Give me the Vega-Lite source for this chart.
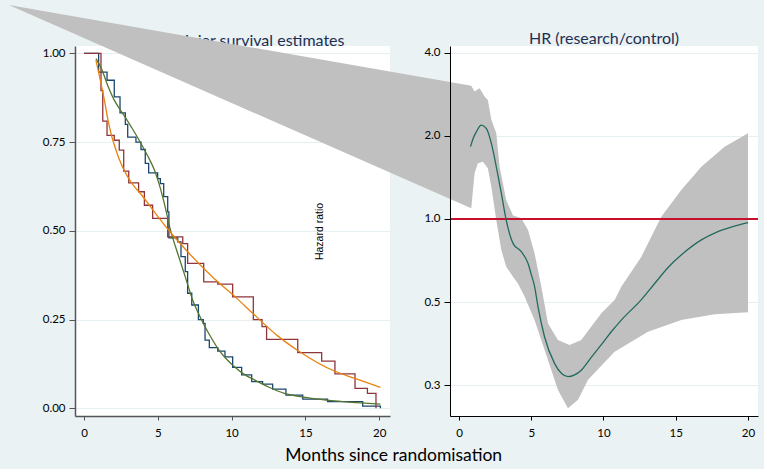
{
  "$schema": "https://vega.github.io/schema/vega-lite/v6.json",
  "background": "#eaf2f3",
  "padding": {"left": 8, "top": 5, "right": 5, "bottom": 5},
  "bounds": "flush",
  "spacing": 60,
  "title": {"text": "Months since randomisation", "orient": "bottom", "anchor": "middle", "font": "Lato", "fontSize": 17.5, "fontWeight": "normal", "color": "#000000", "offset": 8, "dx": 10},
  "config": {
    "view": {"fill": "white", "stroke": null},
    "font": "Lato",
    "title": {"font": "Lato", "fontSize": 16, "fontWeight": "normal", "color": "#1e2f55", "offset": 1},
    "axis": {"labelFont": "Lato", "labelFontSize": 11.5, "labelColor": "#000000", "gridColor": "#e6eff1", "gridWidth": 1, "labelFlush": false, "labelOverlap": false}
  },
  "datasets": {
    "km": [
      {"grp": "control", "t": 0, "S": 1.0}, {"grp": "control", "t": 0.99, "S": 0.947}, {"grp": "control", "t": 1.56, "S": 0.924}, {"grp": "control", "t": 2.05, "S": 0.877}, {"grp": "control", "t": 2.44, "S": 0.832}, {"grp": "control", "t": 2.8, "S": 0.8}, {"grp": "control", "t": 2.96, "S": 0.764}, {"grp": "control", "t": 3.52, "S": 0.75}, {"grp": "control", "t": 3.86, "S": 0.729}, {"grp": "control", "t": 4.15, "S": 0.69}, {"grp": "control", "t": 4.38, "S": 0.663}, {"grp": "control", "t": 4.99, "S": 0.647}, {"grp": "control", "t": 5.17, "S": 0.633}, {"grp": "control", "t": 5.4, "S": 0.596}, {"grp": "control", "t": 5.67, "S": 0.553}, {"grp": "control", "t": 5.75, "S": 0.48}, {"grp": "control", "t": 6.35, "S": 0.469}, {"grp": "control", "t": 6.57, "S": 0.427}, {"grp": "control", "t": 6.86, "S": 0.385}, {"grp": "control", "t": 7.02, "S": 0.324}, {"grp": "control", "t": 7.3, "S": 0.291}, {"grp": "control", "t": 7.75, "S": 0.25}, {"grp": "control", "t": 8.08, "S": 0.239}, {"grp": "control", "t": 8.2, "S": 0.192}, {"grp": "control", "t": 8.49, "S": 0.171}, {"grp": "control", "t": 9.06, "S": 0.161}, {"grp": "control", "t": 9.55, "S": 0.145}, {"grp": "control", "t": 10.07, "S": 0.115}, {"grp": "control", "t": 10.68, "S": 0.094}, {"grp": "control", "t": 11.36, "S": 0.075}, {"grp": "control", "t": 12.1, "S": 0.068}, {"grp": "control", "t": 12.78, "S": 0.054}, {"grp": "control", "t": 13.68, "S": 0.037}, {"grp": "control", "t": 14.82, "S": 0.026}, {"grp": "control", "t": 16.5, "S": 0.019}, {"grp": "control", "t": 18.88, "S": 0.006}, {"grp": "control", "t": 20.08, "S": 0.0},
      {"grp": "research", "t": 0, "S": 1.0}, {"grp": "research", "t": 1.15, "S": 0.895}, {"grp": "research", "t": 1.27, "S": 0.809}, {"grp": "research", "t": 1.56, "S": 0.769}, {"grp": "research", "t": 2.05, "S": 0.755}, {"grp": "research", "t": 2.39, "S": 0.727}, {"grp": "research", "t": 2.69, "S": 0.668}, {"grp": "research", "t": 3.03, "S": 0.635}, {"grp": "research", "t": 3.7, "S": 0.61}, {"grp": "research", "t": 4.09, "S": 0.572}, {"grp": "research", "t": 4.65, "S": 0.535}, {"grp": "research", "t": 5.67, "S": 0.483}, {"grp": "research", "t": 6.69, "S": 0.464}, {"grp": "research", "t": 7.02, "S": 0.408}, {"grp": "research", "t": 8.11, "S": 0.356}, {"grp": "research", "t": 9.06, "S": 0.35}, {"grp": "research", "t": 10.07, "S": 0.314}, {"grp": "research", "t": 11.47, "S": 0.25}, {"grp": "research", "t": 12.06, "S": 0.23}, {"grp": "research", "t": 12.37, "S": 0.194}, {"grp": "research", "t": 14.48, "S": 0.157}, {"grp": "research", "t": 16.1, "S": 0.133}, {"grp": "research", "t": 17.0, "S": 0.097}, {"grp": "research", "t": 18.36, "S": 0.056}, {"grp": "research", "t": 19.2, "S": 0.042}, {"grp": "research", "t": 19.78, "S": 0.0}
    ],
    "fit": [
      {"grp": "control", "t": 0.81, "S": 0.985}, {"grp": "control", "t": 1.2, "S": 0.955}, {"grp": "control", "t": 1.6, "S": 0.91}, {"grp": "control", "t": 2.05, "S": 0.868}, {"grp": "control", "t": 2.5, "S": 0.838}, {"grp": "control", "t": 2.85, "S": 0.816}, {"grp": "control", "t": 3.3, "S": 0.786}, {"grp": "control", "t": 3.86, "S": 0.746}, {"grp": "control", "t": 4.3, "S": 0.712}, {"grp": "control", "t": 4.77, "S": 0.671}, {"grp": "control", "t": 5.1, "S": 0.63}, {"grp": "control", "t": 5.44, "S": 0.577}, {"grp": "control", "t": 5.89, "S": 0.497}, {"grp": "control", "t": 6.2, "S": 0.455}, {"grp": "control", "t": 6.57, "S": 0.408}, {"grp": "control", "t": 7.0, "S": 0.352}, {"grp": "control", "t": 7.36, "S": 0.305}, {"grp": "control", "t": 7.7, "S": 0.272}, {"grp": "control", "t": 8.15, "S": 0.234}, {"grp": "control", "t": 8.6, "S": 0.2}, {"grp": "control", "t": 9.06, "S": 0.169}, {"grp": "control", "t": 9.6, "S": 0.141}, {"grp": "control", "t": 10.19, "S": 0.117}, {"grp": "control", "t": 10.8, "S": 0.097}, {"grp": "control", "t": 11.54, "S": 0.08}, {"grp": "control", "t": 12.5, "S": 0.06}, {"grp": "control", "t": 13.57, "S": 0.042}, {"grp": "control", "t": 15.0, "S": 0.031}, {"grp": "control", "t": 16.96, "S": 0.021}, {"grp": "control", "t": 18.5, "S": 0.016}, {"grp": "control", "t": 20.08, "S": 0.012},
      {"grp": "research", "t": 0.81, "S": 0.98}, {"grp": "research", "t": 1.1, "S": 0.925}, {"grp": "research", "t": 1.38, "S": 0.868}, {"grp": "research", "t": 1.63, "S": 0.811}, {"grp": "research", "t": 1.83, "S": 0.774}, {"grp": "research", "t": 2.17, "S": 0.727}, {"grp": "research", "t": 2.5, "S": 0.69}, {"grp": "research", "t": 2.96, "S": 0.652}, {"grp": "research", "t": 3.4, "S": 0.625}, {"grp": "research", "t": 3.86, "S": 0.603}, {"grp": "research", "t": 4.77, "S": 0.553}, {"grp": "research", "t": 5.67, "S": 0.505}, {"grp": "research", "t": 7.02, "S": 0.441}, {"grp": "research", "t": 8.83, "S": 0.365}, {"grp": "research", "t": 10.19, "S": 0.316}, {"grp": "research", "t": 11.5, "S": 0.265}, {"grp": "research", "t": 13.12, "S": 0.204}, {"grp": "research", "t": 14.48, "S": 0.163}, {"grp": "research", "t": 16.96, "S": 0.105}, {"grp": "research", "t": 18.36, "S": 0.084}, {"grp": "research", "t": 20.08, "S": 0.059}
    ],
    "hr": [
      {"t": 0.8, "hr": 1.83}, {"t": 1.0, "hr": 1.97}, {"t": 1.2, "hr": 2.07}, {"t": 1.54, "hr": 2.19}, {"t": 1.89, "hr": 2.13}, {"t": 2.24, "hr": 1.88}, {"t": 2.58, "hr": 1.55}, {"t": 2.93, "hr": 1.24}, {"t": 3.27, "hr": 0.99}, {"t": 3.74, "hr": 0.816}, {"t": 4.31, "hr": 0.761}, {"t": 4.78, "hr": 0.69}, {"t": 5.0, "hr": 0.63}, {"t": 5.23, "hr": 0.57}, {"t": 5.47, "hr": 0.48}, {"t": 5.92, "hr": 0.374}, {"t": 6.62, "hr": 0.299}, {"t": 7.1, "hr": 0.275}, {"t": 7.54, "hr": 0.268}, {"t": 8.0, "hr": 0.272}, {"t": 8.46, "hr": 0.283}, {"t": 9.15, "hr": 0.315}, {"t": 9.85, "hr": 0.35}, {"t": 10.54, "hr": 0.39}, {"t": 11.23, "hr": 0.43}, {"t": 12.62, "hr": 0.51}, {"t": 13.5, "hr": 0.58}, {"t": 14.5, "hr": 0.67}, {"t": 15.5, "hr": 0.75}, {"t": 16.77, "hr": 0.84}, {"t": 17.8, "hr": 0.895}, {"t": 18.84, "hr": 0.935}, {"t": 20.0, "hr": 0.97}
    ],
    "ci": [
      {"t": -31.14, "hr": 5.97},
      {"t": 0.85, "hr": 3.04}, {"t": 1.08, "hr": 2.9}, {"t": 1.43, "hr": 2.98}, {"t": 1.77, "hr": 2.78}, {"t": 2.0, "hr": 2.7}, {"t": 2.24, "hr": 2.29}, {"t": 2.58, "hr": 2.05}, {"t": 2.81, "hr": 1.55}, {"t": 3.27, "hr": 1.17}, {"t": 3.74, "hr": 1.03}, {"t": 4.31, "hr": 1.006}, {"t": 4.78, "hr": 0.912}, {"t": 5.23, "hr": 0.751}, {"t": 5.7, "hr": 0.568}, {"t": 6.16, "hr": 0.418}, {"t": 6.85, "hr": 0.364}, {"t": 7.65, "hr": 0.349}, {"t": 8.46, "hr": 0.364}, {"t": 9.85, "hr": 0.455}, {"t": 10.77, "hr": 0.508}, {"t": 11.23, "hr": 0.568}, {"t": 12.62, "hr": 0.73}, {"t": 14.0, "hr": 1.019}, {"t": 15.38, "hr": 1.274}, {"t": 16.77, "hr": 1.548}, {"t": 18.38, "hr": 1.829}, {"t": 20.0, "hr": 2.046},
      {"t": 20.0, "hr": 0.459}, {"t": 17.69, "hr": 0.451}, {"t": 15.38, "hr": 0.43}, {"t": 13.08, "hr": 0.39}, {"t": 10.77, "hr": 0.33}, {"t": 8.93, "hr": 0.261}, {"t": 8.24, "hr": 0.221}, {"t": 7.54, "hr": 0.206}, {"t": 6.85, "hr": 0.24}, {"t": 6.16, "hr": 0.308}, {"t": 5.23, "hr": 0.43}, {"t": 4.54, "hr": 0.523}, {"t": 4.08, "hr": 0.584}, {"t": 3.74, "hr": 0.618}, {"t": 3.27, "hr": 0.671}, {"t": 2.93, "hr": 0.772}, {"t": 2.58, "hr": 0.992}, {"t": 2.24, "hr": 1.31}, {"t": 2.0, "hr": 1.527}, {"t": 1.66, "hr": 1.613}, {"t": 1.31, "hr": 1.592}, {"t": 1.08, "hr": 1.465}, {"t": 0.85, "hr": 1.094}
    ]
  },
  "hconcat": [
    {
      "width": 315,
      "height": 370,
      "title": {"text": "Kaplan-Meier survival estimates", "frame": "group", "dy": 3.7},
      "resolve": {"scale": {"color": "independent"}},
      "encoding": {
        "x": {"field": "t", "type": "quantitative", "scale": {"domain": [-0.61, 20.73], "nice": false, "zero": false}, "axis": {"values": [0, 5, 10, 15, 20], "title": null, "grid": false, "domainColor": "#555555", "tickColor": "#555555", "domainWidth": 1.5, "tickSize": 4, "labelPadding": 7, "zindex": 0}},
        "y": {"field": "S", "type": "quantitative", "scale": {"domain": [-0.0217, 1.0205], "nice": false, "zero": false}, "axis": {"values": [0, 0.25, 0.5, 0.75, 1], "format": ".2f", "title": null, "grid": true, "domainColor": "#555555", "tickColor": "#555555", "domainWidth": 1.5, "tickSize": 6, "labelPadding": 4, "zindex": 0}}
      },
      "layer": [
        {"data": {"name": "km"}, "mark": {"type": "line", "interpolate": "step-after", "strokeWidth": 1.3}, "encoding": {"color": {"field": "grp", "type": "nominal", "scale": {"domain": ["control", "research"], "range": ["#1a476f", "#90353b"]}, "legend": null}}},
        {"data": {"name": "fit"}, "mark": {"type": "line", "interpolate": "monotone", "strokeWidth": 1.3}, "encoding": {"color": {"field": "grp", "type": "nominal", "scale": {"domain": ["control", "research"], "range": ["#55752f", "#e8820c"]}, "legend": null}}}
      ]
    },
    {
      "width": 308,
      "height": 370,
      "title": {"text": "HR (research/control)", "frame": "group", "dy": 43},
      "resolve": {"axis": {"y": "independent"}},
      "encoding": {
        "x": {"field": "t", "type": "quantitative", "scale": {"domain": [-0.62, 20.69], "nice": false, "zero": false}, "axis": {"values": [0, 5, 10, 15, 20], "title": null, "grid": false, "domainColor": "#000000", "tickColor": "#000000", "tickSize": 4, "labelPadding": 7, "zindex": 1}}
      },
      "layer": [
        {"data": {"name": "ci"}, "mark": {"type": "line", "interpolate": "linear", "color": "#c0c0c0", "fill": "#c0c0c0", "strokeWidth": 0},
         "encoding": {"order": {"value": null},
           "y": {"field": "hr", "type": "quantitative", "scale": {"type": "log", "domain": [0.193, 4.24], "nice": false}, "axis": {"orient": "left", "values": [0.25, 0.5, 1, 2, 4], "grid": true, "domain": false, "ticks": false, "labels": false, "title": null, "zindex": 0}}}},
        {"data": {"name": "hr"}, "mark": {"type": "rule", "color": "#c8102e", "strokeWidth": 1.2}, "encoding": {"y": {"datum": 1, "axis": null}, "x": null}},
        {"data": {"name": "hr"}, "mark": {"type": "line", "interpolate": "monotone", "color": "#236a5e", "strokeWidth": 1.3},
         "encoding": {
           "y": {"field": "hr", "type": "quantitative", "scale": {"type": "log", "domain": [0.193, 4.24], "nice": false}, "axis": {"orient": "left", "values": [0.25, 0.5, 1, 2, 4], "format": ".1f", "grid": false, "domainColor": "#000000", "tickColor": "#000000", "tickSize": 6, "labelPadding": 4, "zindex": 1, "title": "Hazard ratio", "titleFont": "Liberation Sans", "titleFontSize": 10.5, "titleFontWeight": "normal", "titleColor": "#000000", "titleX": -126, "titleY": 185, "titleAngle": -90, "titleBaseline": "bottom", "titleAlign": "center"}}}}
      ]
    }
  ]
}
